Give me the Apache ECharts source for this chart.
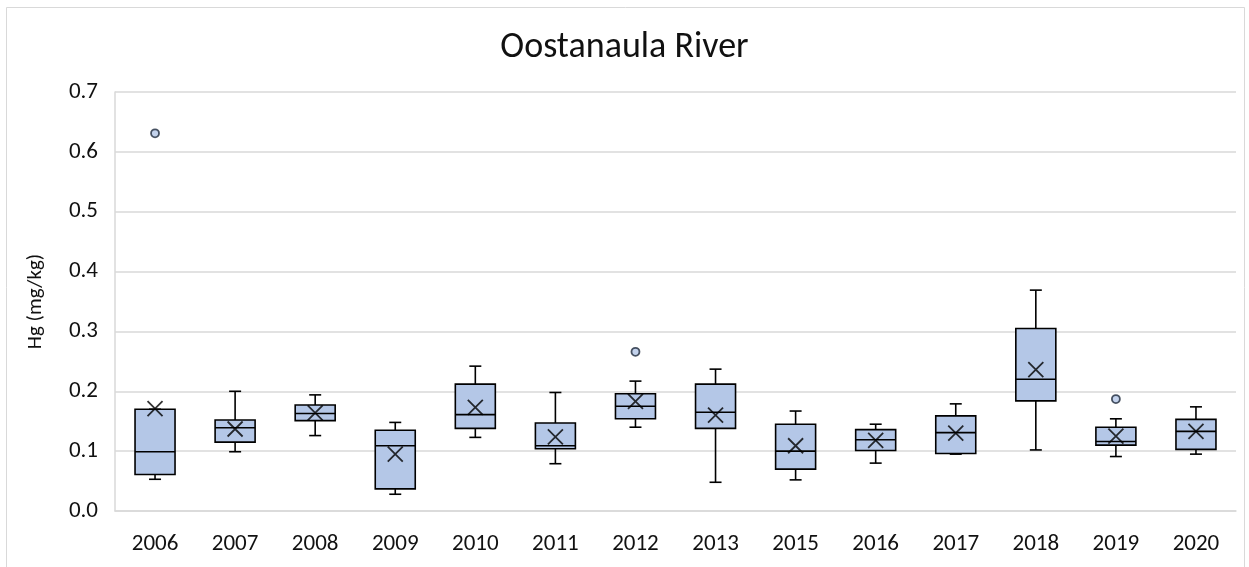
<!DOCTYPE html>
<html>
<head>
<meta charset="utf-8">
<script src="https://cdn.jsdelivr.net/npm/echarts@6/dist/echarts.min.js"></script>
<style>
  html, body { margin: 0; padding: 0; background: #fff; }
  #chart { width: 1249px; height: 567px; }
</style>
</head>
<body>
<div id="chart"></div>
<script>
  const years = ['2006', '2007', '2008', '2009', '2010', '2011', '2012', '2013', '2015', '2016', '2017', '2018', '2019', '2020'];
  // whisker ends, quartiles and median (mg/kg)
  const lows    = [0.053, 0.099, 0.126, 0.028, 0.123, 0.079, 0.140, 0.048, 0.052, 0.080, 0.095, 0.102, 0.091, 0.095];
  const q1s     = [0.061, 0.115, 0.151, 0.037, 0.138, 0.104, 0.154, 0.138, 0.070, 0.101, 0.096, 0.184, 0.110, 0.103];
  const medians = [0.099, 0.139, 0.163, 0.109, 0.161, 0.109, 0.175, 0.165, 0.100, 0.119, 0.131, 0.220, 0.116, 0.133];
  const q3s     = [0.170, 0.152, 0.177, 0.135, 0.212, 0.147, 0.196, 0.212, 0.145, 0.136, 0.159, 0.305, 0.140, 0.153];
  const highs   = [0.170, 0.200, 0.194, 0.148, 0.242, 0.198, 0.217, 0.237, 0.167, 0.145, 0.179, 0.369, 0.154, 0.174];
  const means   = [0.171, 0.137, 0.164, 0.095, 0.173, 0.124, 0.183, 0.160, 0.109, 0.118, 0.130, 0.236, 0.125, 0.133];
  const outliers = [['2006', 0.631], ['2012', 0.266], ['2019', 0.187]];
  const yTicks = [0, 0.1, 0.2, 0.3, 0.4, 0.5, 0.6, 0.7];

  const FONT = 'Carlito, Lato, sans-serif';
  const BOX_FILL = '#b4c7e7';

  const boxData = years.map((y, i) => [i, lows[i], q1s[i], medians[i], q3s[i], highs[i]]);
  const meanData = years.map((y, i) => [i, means[i]]);
  const outlierData = outliers.map(o => [years.indexOf(o[0]), o[1]]);

  const chart = echarts.init(document.getElementById('chart'));

  function renderBox(params, api) {
    const i = api.value(0);
    const lo = api.coord([i, api.value(1)]);
    const q1 = api.coord([i, api.value(2)]);
    const md = api.coord([i, api.value(3)]);
    const q3 = api.coord([i, api.value(4)]);
    const hi = api.coord([i, api.value(5)]);
    const cx = lo[0];
    const half = 20, cap = 6;
    const line = { stroke: '#000', lineWidth: 1.6 };
    return {
      type: 'group',
      children: [
        { type: 'line', shape: { x1: cx, y1: hi[1], x2: cx, y2: q3[1] }, style: line },
        { type: 'line', shape: { x1: cx, y1: q1[1], x2: cx, y2: lo[1] }, style: line },
        { type: 'line', shape: { x1: cx - cap, y1: hi[1], x2: cx + cap, y2: hi[1] }, style: line },
        { type: 'line', shape: { x1: cx - cap, y1: lo[1], x2: cx + cap, y2: lo[1] }, style: line },
        { type: 'rect', shape: { x: cx - half, y: q3[1], width: half * 2, height: q1[1] - q3[1] },
          style: { fill: BOX_FILL, stroke: '#000', lineWidth: 1.6 } },
        { type: 'line', shape: { x1: cx - half, y1: md[1], x2: cx + half, y2: md[1] }, style: line }
      ]
    };
  }

  chart.setOption({
    animation: false,
    backgroundColor: '#fff',
    graphic: [{
      type: 'rect',
      shape: { x: 6.5, y: 7.5, width: 1238, height: 570 },
      style: { fill: 'none', stroke: '#d9d9d9', lineWidth: 1 },
      silent: true
    }],
    title: {
      text: 'Oostanaula River',
      left: 'center',
      top: 25,
      textStyle: { fontFamily: FONT, fontSize: 36, fontWeight: 'normal', color: '#111' }
    },
    grid: { left: 115, right: 13, top: 92, bottom: 56 },
    xAxis: {
      type: 'category',
      data: years,
      boundaryGap: true,
      axisLine: { show: true, lineStyle: { color: '#d9d9d9', width: 1.5 } },
      axisTick: { show: false },
      axisLabel: { fontFamily: FONT, fontSize: 23, color: '#111', margin: 22 },
      splitLine: { show: false }
    },
    yAxis: {
      type: 'value',
      min: yTicks[0],
      max: yTicks[yTicks.length - 1],
      interval: 0.1,
      name: 'Hg (mg/kg)',
      nameLocation: 'middle',
      nameGap: 69,
      nameTextStyle: { fontFamily: FONT, fontSize: 21, color: '#111' },
      axisLine: { show: true, lineStyle: { color: '#d9d9d9', width: 1.5 } },
      axisTick: { show: false },
      axisLabel: {
        fontFamily: FONT, fontSize: 23, color: '#111', margin: 17,
        formatter: v => v.toFixed(1)
      },
      splitLine: { lineStyle: { color: '#d9d9d9', width: 1.5 } }
    },
    series: [
      {
        name: 'box',
        type: 'custom',
        renderItem: renderBox,
        encode: { x: 0, y: [1, 2, 3, 4, 5] },
        data: boxData,
        z: 2
      },
      {
        name: 'mean',
        type: 'scatter',
        symbol: 'path://M0,0L10,10M10,0L0,10',
        symbolSize: 15,
        itemStyle: { color: 'rgba(0,0,0,0)', borderColor: '#000', borderWidth: 1.8 },
        data: meanData,
        z: 3
      },
      {
        name: 'outlier',
        type: 'scatter',
        symbol: 'circle',
        symbolSize: 8,
        itemStyle: { color: BOX_FILL, borderColor: '#1f2a3c', borderWidth: 1.8 },
        data: outlierData,
        z: 3
      }
    ]
  });
</script>
</body>
</html>
